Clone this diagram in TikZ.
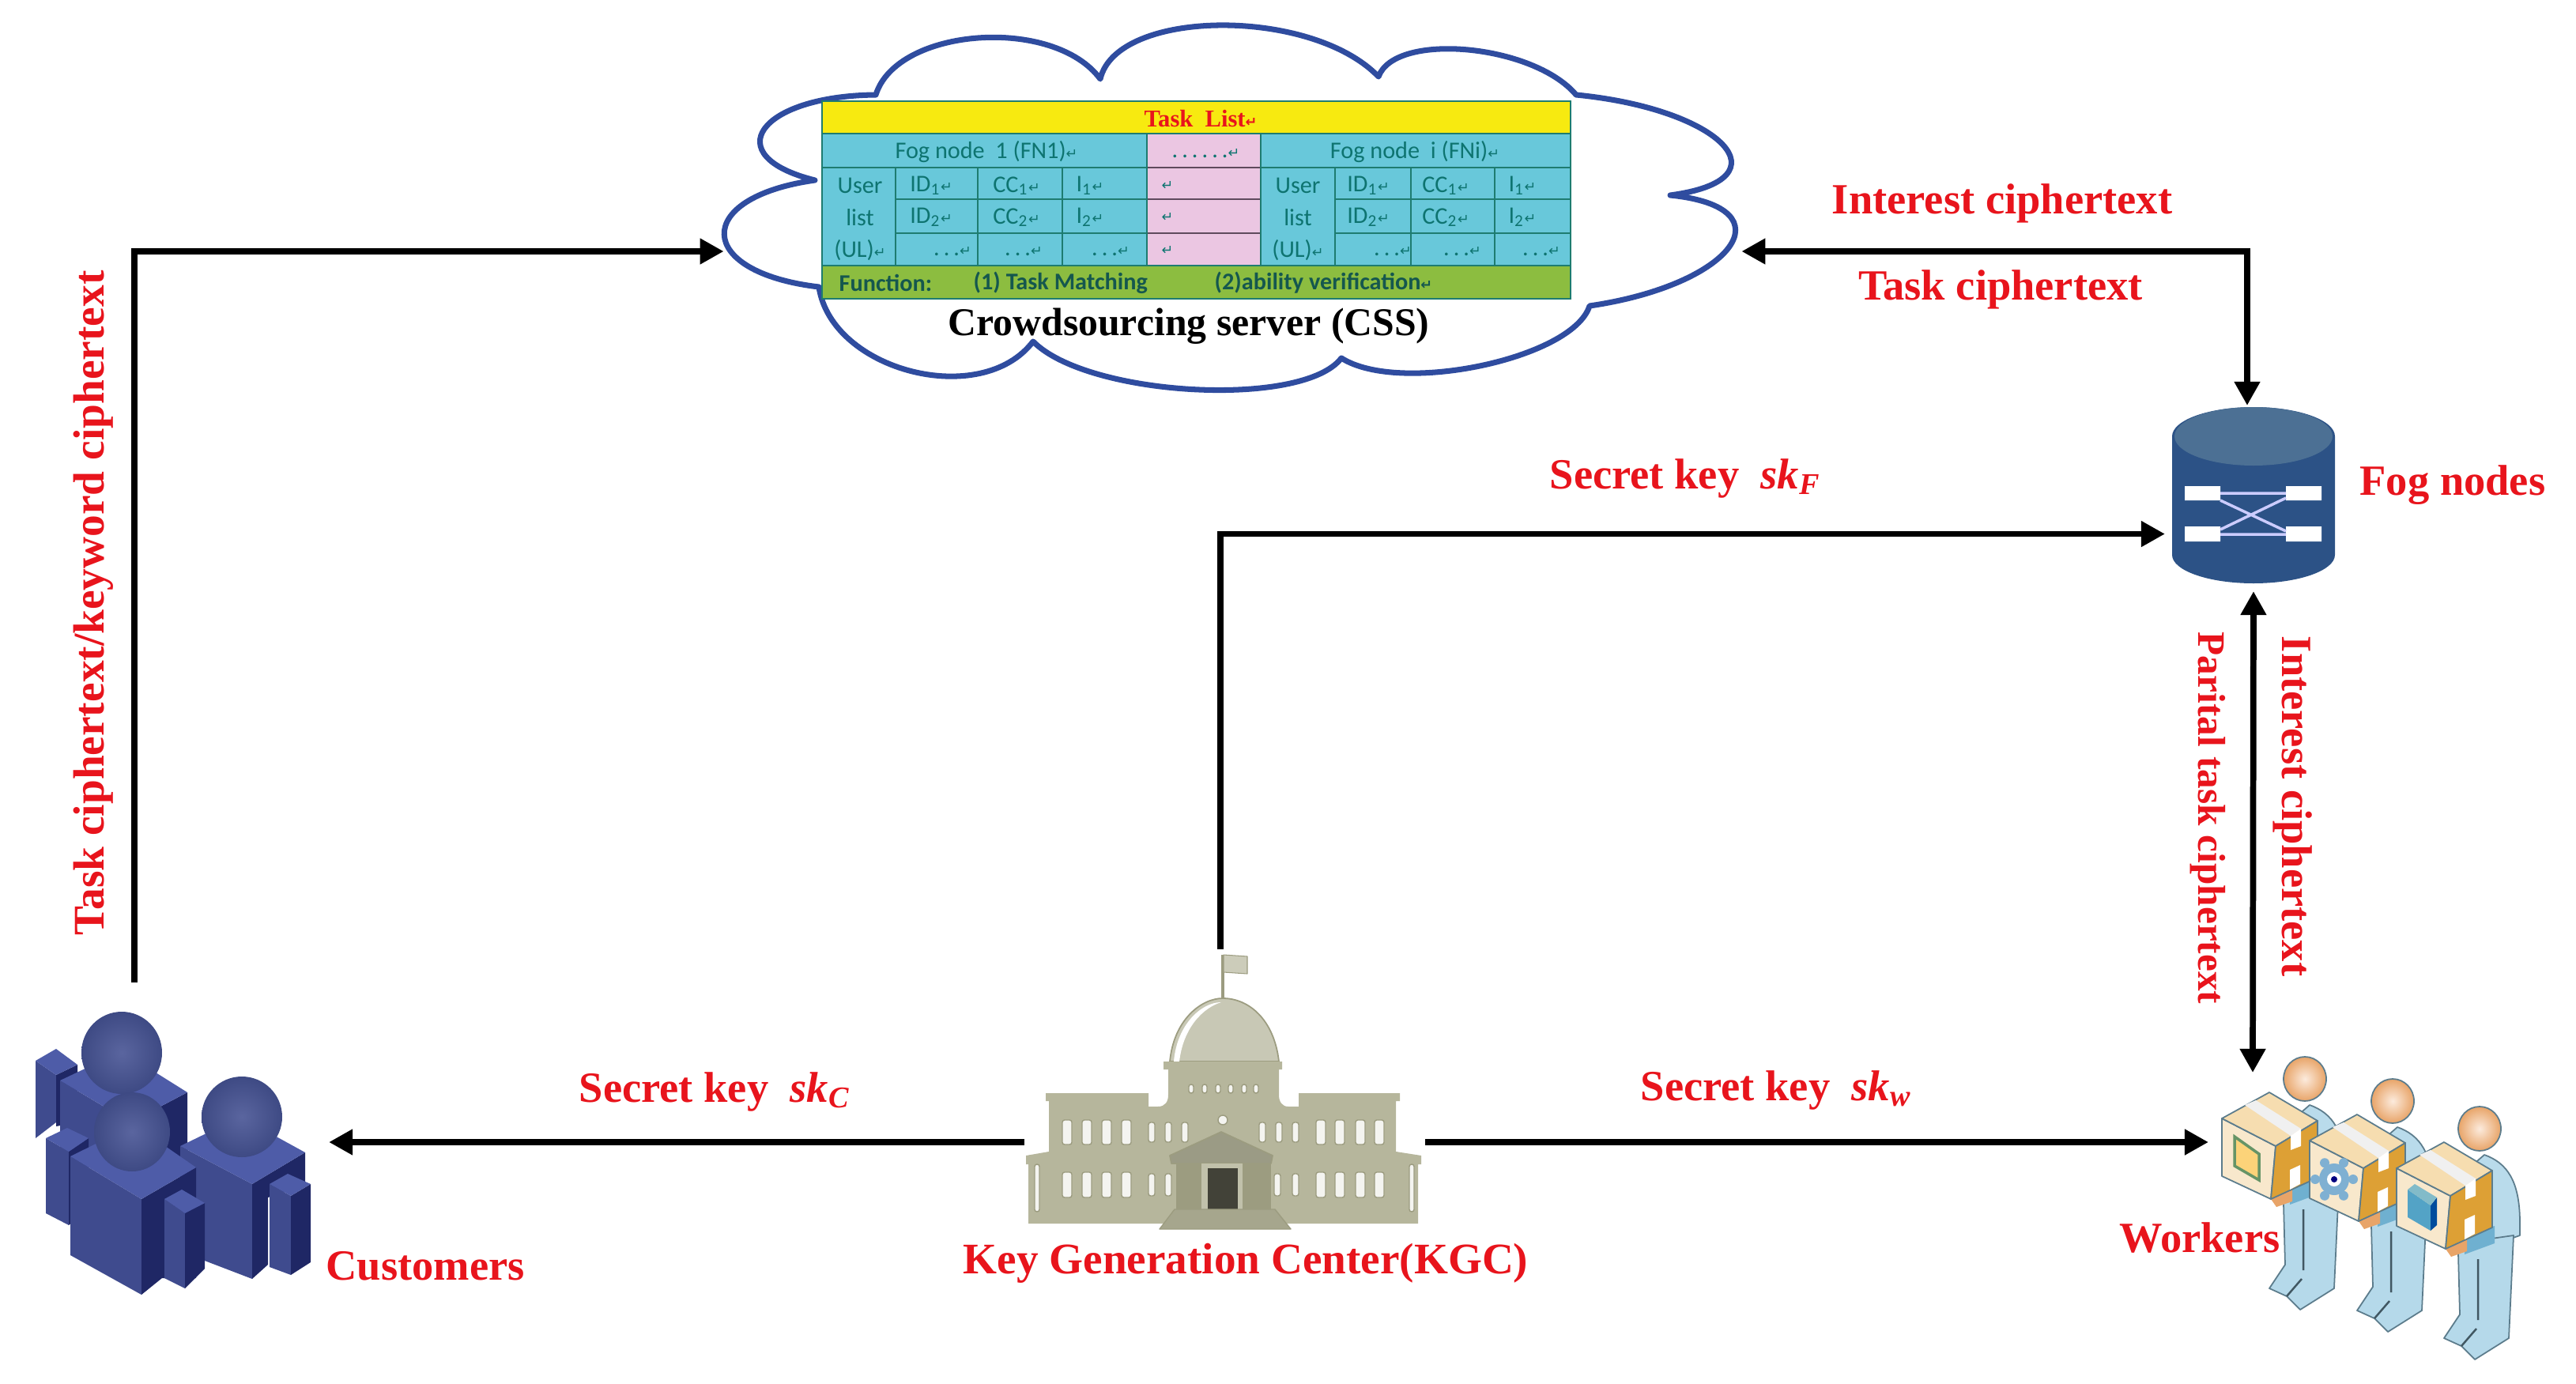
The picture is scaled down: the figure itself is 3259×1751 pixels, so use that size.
\documentclass[tikz,border=0pt]{standalone}
\usepackage{fontspec}
\setmainfont{Liberation Serif}
\setsansfont{Carlito}
\newfontfamily\symfont{DejaVu Sans}
\usetikzlibrary{arrows.meta,calc}
\definecolor{lab}{HTML}{E8141C}
\definecolor{cloudb}{HTML}{2F4C9F}
\definecolor{cyanc}{HTML}{68C8DA}
\definecolor{pinkc}{HTML}{EBC6E2}
\definecolor{yelc}{HTML}{F7EA10}
\definecolor{grnc}{HTML}{8CBD40}
\definecolor{tealt}{HTML}{0E7470}
\definecolor{teall}{HTML}{1E7C70}
\definecolor{custM}{HTML}{3F4B8E}
\definecolor{custT}{HTML}{4E5CA8}
\definecolor{custD}{HTML}{1F2765}
\definecolor{custH}{HTML}{5A659F}
\definecolor{custO}{HTML}{3E4A84}
\definecolor{bld}{HTML}{B6B69C}
\definecolor{bldd}{HTML}{9C9C80}
\definecolor{wkb}{HTML}{A8D2E6}
\definecolor{wkd}{HTML}{5C7C8C}
\definecolor{wkw}{HTML}{6FB0D0}
\definecolor{boxT}{HTML}{F6DDB0}
\definecolor{boxL}{HTML}{F8E8CC}
\definecolor{boxR}{HTML}{DDA035}
\definecolor{headI}{HTML}{FCEBDD}
\definecolor{headO}{HTML}{E8A468}
\definecolor{gearc}{HTML}{7FB0D2}
\newcommand{\lobe}[3]{.. controls ($1.333*(#2)+0.183*(#1)-0.517*(#3)$) and ($1.333*(#2)-0.517*(#1)+0.183*(#3)$) .. (#3)}
\newcommand{\retm}{{\symfont\fontsize{5}{6}\selectfont ↵}}
\newcommand{\skey}[1]{Secret key~~{\itshape sk}\textsubscript{\itshape #1}}
\begin{document}
\begin{tikzpicture}[x=0.01cm,y=-0.01cm,
  arr/.style={line width=2.2pt,draw=black,-{Triangle[length=3mm,width=3.1mm]}},
  darr/.style={line width=2.2pt,draw=black,{Triangle[length=3mm,width=3.1mm]}-{Triangle[length=3mm,width=3.1mm]}},
  port/.style={inner sep=0pt,outer sep=0pt,draw=none,fill=none},
  lbl/.style={font=\fontsize{15.5}{18}\selectfont\bfseries,text=lab,inner sep=0pt},
  cell/.style={font=\sffamily\fontsize{8.6}{10}\selectfont,text=tealt,inner sep=0pt},
  win/.style={fill=#1,draw=bldd,line width=0.4pt,rounded corners=0.8pt},
  win/.default={white!85!bld},
  bx/.style={draw=wkd,line width=0.5pt,line join=round}]
\useasboundingbox (0,0) rectangle (3259,1751);

% ---------- cloud
\foreach \n/\x/\y in {a/1031/228,b/1108/120,c/1392/100,d/1744/97,e/1994/120,f/2113/247,g/2011/387,h/1697/453,i/1307/432,j/1036/363,
  ma/968/163,mb/1239/48,mc/1545/32,md/1858/63,me/2181/183,mf/2189/313,mg/1875/463,mh/1511/493,mi/1154/470,mj/917/297}
  \coordinate (\n) at (\x,\y);
\draw[cloudb,fill=white,line width=2pt,line join=round]
  (a) \lobe{a}{ma}{b} \lobe{b}{mb}{c} \lobe{c}{mc}{d} \lobe{d}{md}{e} \lobe{e}{me}{f}
      \lobe{f}{mf}{g} \lobe{g}{mg}{h} \lobe{h}{mh}{i} \lobe{i}{mi}{j} \lobe{j}{mj}{a} -- cycle;

% ---------- table
\fill[yelc] (1040,128) rectangle (1987,169);
\fill[cyanc] (1040,169) rectangle (1451,336);
\fill[pinkc] (1451,169) rectangle (1595,336);
\fill[cyanc] (1595,169) rectangle (1987,336);
\fill[grnc] (1040,336) rectangle (1987,378);
\draw[teall,line width=0.6pt] (1040,128) rectangle (1987,378);
\draw[teall,line width=0.8pt] (1040,169) -- (1987,169) (1040,212) -- (1987,212) (1040,336) -- (1987,336);
\draw[teall,line width=0.8pt] (1133,252) -- (1451,252) (1133,295) -- (1451,295) (1689,252) -- (1987,252) (1689,295) -- (1987,295);
\draw[teall!60!purple,line width=0.8pt] (1451,212) -- (1595,212) (1451,252) -- (1595,252) (1451,295) -- (1595,295);
\foreach \x in {1133,1237,1344,1451,1595,1689,1785,1891} \draw[teall,line width=0.6pt] (\x,212) -- (\x,336);
\draw[teall,line width=0.6pt] (1451,169) -- (1451,212) (1595,169) -- (1595,212);
\node[font=\fontsize{8.7}{10}\selectfont\bfseries,text=lab,inner sep=0pt] (tTask) at (1519,150) {Task~~List\retm};
\node[cell] (tFog1) at (1248,192) {Fog node~~1 (FN1)\retm};
\node[cell] (tDots) at (1523,194) {\,.\,.\,.\,.\,.\,.\retm};
\node[cell] (tFogI) at (1790,192) {Fog node~~i (FNi)\retm};
\node[cell] (tUa) at (1088,235) {User};
\node[cell] (tUb) at (1088,275) {list};
\node[cell] (tUc) at (1088,317) {(UL)\retm};
\node[cell] (tUd) at (1642,235) {User};
\node[cell] (tUe) at (1642,275) {list};
\node[cell] (tUf) at (1642,317) {(UL)\retm};
\node[cell] (tA1) at (1178,235) {ID\textsubscript{1}\retm};
\node[cell] (tA2) at (1286,235) {CC\textsubscript{1}\retm};
\node[cell] (tA3) at (1379,235) {I\textsubscript{1}\retm};
\node[cell] (tB1) at (1178,275) {ID\textsubscript{2}\retm};
\node[cell] (tB2) at (1286,275) {CC\textsubscript{2}\retm};
\node[cell] (tB3) at (1379,275) {I\textsubscript{2}\retm};
\node[cell] (tC1) at (1205,318) {.\,.\,.\retm};
\node[cell] (tC2) at (1295,318) {.\,.\,.\retm};
\node[cell] (tC3) at (1405,318) {.\,.\,.\retm};
\node[cell] (tD1) at (1731,235) {ID\textsubscript{1}\retm};
\node[cell] (tD2) at (1829,235) {CC\textsubscript{1}\retm};
\node[cell] (tD3) at (1926,235) {I\textsubscript{1}\retm};
\node[cell] (tE1) at (1731,275) {ID\textsubscript{2}\retm};
\node[cell] (tE2) at (1829,275) {CC\textsubscript{2}\retm};
\node[cell] (tE3) at (1926,275) {I\textsubscript{2}\retm};
\node[cell] (tF1) at (1762,318) {.\,.\,.\retm};
\node[cell] (tF2) at (1850,318) {.\,.\,.\retm};
\node[cell] (tF3) at (1950,318) {.\,.\,.\retm};
\node[cell] (tP1) at (1477,235) {\retm};
\node[cell] (tP2) at (1477,275) {\retm};
\node[cell] (tP3) at (1477,317) {\retm};
\node[cell,font=\sffamily\bfseries\fontsize{8.6}{10}\selectfont,text=teall!70!black,anchor=west] (tFa) at (1061,358) {Function:};
\node[cell,font=\sffamily\bfseries\fontsize{8.6}{10}\selectfont,text=teall!70!black,anchor=west] (tFb) at (1231,358) {(1) Task Matching};
\node[cell,font=\sffamily\bfseries\fontsize{8.6}{10}\selectfont,text=teall!70!black,anchor=west] (tFc) at (1536,358) {(2)ability verification\retm};
\node[font=\fontsize{14.15}{17}\selectfont\bfseries,inner sep=0pt] (tCSS) at (1504,413) {Crowdsourcing server (CSS)};

% ---------- fog cylinder
\fill[fill={rgb,255:red,44;green,82;blue,134}] (2748,552) -- (2748,702) arc[x radius=103,y radius=-36,start angle=180,end angle=360] -- (2954,552) arc[x radius=103,y radius=-37,start angle=0,end angle=180] -- cycle;
\fill[fill={rgb,255:red,76;green,112;blue,148}] (2851,552) ellipse[x radius=100,y radius=-37];
\fill[white] (2764,615) rectangle (2809,633) (2892,615) rectangle (2937,633) (2764,666) rectangle (2809,685) (2892,666) rectangle (2937,685);
\draw[white!80!blue,line width=1pt] (2809,624) -- (2892,624) (2809,676) -- (2892,676) (2809,633) -- (2892,672) (2809,670) -- (2892,630);

% ---------- customers
\begin{scope}[line join=round]
% back person
\fill[custM] (45,1342) -- (71,1360) -- (71,1420) -- (45,1440) -- cycle;
\fill[custD] (71,1360) -- (98,1347) -- (98,1420) -- (71,1425) -- cycle;
\fill[custT] (45,1342) -- (71,1327) -- (98,1347) -- (71,1360) -- cycle;
\fill[custM] (76,1367) -- (165,1420) -- (165,1500) -- (76,1460) -- cycle;
\fill[custD] (165,1420) -- (237,1382) -- (237,1470) -- (165,1500) -- cycle;
\fill[custT] (76,1367) -- (154,1330) -- (237,1382) -- (165,1420) -- cycle;
\shade[inner color=custH,outer color=custO] (154,1332) ellipse[x radius=51,y radius=-52];
% right person
\fill[custM] (228,1450) -- (319,1498) -- (319,1618) -- (259,1595) -- (228,1520) -- cycle;
\fill[custD] (319,1498) -- (386,1458) -- (386,1500) -- (339,1515) -- (339,1600) -- (319,1618) -- cycle;
\fill[custT] (228,1450) -- (304,1413) -- (386,1458) -- (319,1498) -- cycle;
\fill[custM] (341,1498) -- (368,1513) -- (368,1613) -- (341,1603) -- cycle;
\fill[custD] (368,1513) -- (393,1498) -- (393,1597) -- (368,1613) -- cycle;
\fill[custT] (341,1498) -- (364,1485) -- (393,1498) -- (368,1513) -- cycle;
\shade[inner color=custH,outer color=custO] (306,1413) ellipse[x radius=51,y radius=-51];
% front person
\fill[custM] (58,1440) -- (87,1457) -- (87,1550) -- (58,1535) -- cycle;
\fill[custD] (87,1457) -- (112,1440) -- (112,1530) -- (87,1550) -- cycle;
\fill[custT] (58,1440) -- (85,1427) -- (112,1440) -- (87,1457) -- cycle;
\fill[custM] (89,1463) -- (179,1517) -- (179,1638) -- (89,1588) -- cycle;
\fill[custD] (179,1517) -- (248,1477) -- (248,1617) -- (205,1617) -- (179,1638) -- cycle;
\fill[custT] (89,1463) -- (170,1423) -- (248,1477) -- (179,1517) -- cycle;
\fill[custM] (208,1517) -- (234,1535) -- (234,1630) -- (208,1617) -- cycle;
\fill[custD] (234,1535) -- (259,1522) -- (259,1605) -- (234,1630) -- cycle;
\fill[custT] (208,1517) -- (230,1505) -- (259,1522) -- (234,1535) -- cycle;
\shade[inner color=custH,outer color=custO] (167,1432) ellipse[x radius=48,y radius=-50];
\end{scope}

% ---------- KGC building
\begin{scope}[line join=round]
\draw[bldd,line width=1pt] (1547,1262) -- (1547,1208);
\fill[bld!70!white,draw=bldd,line width=0.3pt] (1548,1208) -- (1578,1210) -- (1578,1232) -- (1548,1230) -- cycle;
\fill[bld!75!white,draw=bldd,line width=0.5pt] (1480,1343) .. controls (1485,1290) and (1520,1263) .. (1547,1263) .. controls (1580,1263) and (1612,1290) .. (1618,1343) -- cycle;
\fill[white] (1485,1343) .. controls (1489,1296) and (1520,1268) .. (1545,1268) .. controls (1522,1275) and (1497,1300) .. (1492,1343) -- cycle;
\fill[bld] (1301,1548) -- (1301,1473) -- (1298,1473) -- (1298,1462) -- (1327,1457) -- (1327,1393) -- (1323,1393) -- (1323,1383) -- (1453,1383) -- (1453,1400) -- (1465,1400) .. controls (1474,1400) and (1478,1394) .. (1478,1385) -- (1478,1353) -- (1472,1353) -- (1472,1343) -- (1622,1343) -- (1622,1353) -- (1618,1353) -- (1618,1385) .. controls (1618,1394) and (1622,1400) .. (1630,1400) -- (1643,1400) -- (1643,1383) -- (1771,1383) -- (1771,1393) -- (1766,1393) -- (1766,1457) -- (1798,1462) -- (1798,1473) -- (1794,1473) -- (1794,1548) -- cycle;
\foreach \x in {1507,1524,1541,1557,1574,1589} \draw[win] (\x-3,1372) rectangle (\x+3,1383);
\foreach \x in {1350,1375,1400,1425,1671,1695,1721,1745} {\draw[win] (\x-6,1417) rectangle (\x+6,1448); \draw[win] (\x-6,1483) rectangle (\x+6,1515);}
\foreach \x in {1457,1478,1499,1597,1618,1639} \draw[win] (\x-4,1420) rectangle (\x+4,1445);
\foreach \x in {1457,1478,1616,1639} \draw[win] (\x-4,1485) rectangle (\x+4,1513);
\foreach \x in {1312,1786} \draw[win] (\x-3,1473) rectangle (\x+3,1533);
\draw[win] (1547,1417) circle[radius=6];
\fill[bldd] (1488,1462) rectangle (1608,1530);
\fill[bld!85!black,draw=bldd,line width=0.5pt] (1545,1432) -- (1610,1462) -- (1608,1472) -- (1482,1472) -- (1480,1462) -- cycle;
\fill[bld!85!white] (1520,1472) rectangle (1572,1530);
\fill[black!55!bld!80!black] (1528,1478) rectangle (1566,1530);
\fill[bldd!90!white,draw=bldd,line width=0.4pt] (1467,1555) -- (1633,1555) -- (1613,1530) -- (1486,1530) -- cycle;
\end{scope}

% ---------- workers
\newcommand{\wkr}[3]{%
\begin{scope}[shift={(#1,#2)}]
 \fill[wkb!80!white,bx] (2922,1398) .. controls (2950,1408) and (2967,1430) .. (2967,1484) -- (2967,1500) -- (2897,1525) -- (2897,1420) -- cycle;
 \fill[wkb!85!white,bx] (2889,1523) -- (2891,1600) -- (2871,1630) -- (2893,1640) -- (2910,1657) -- (2953,1630) -- (2959,1500) -- (2889,1510) -- cycle;
 \draw[wkd!70!black,line width=0.7pt] (2914,1530) -- (2914,1607) (2893,1640) -- (2912,1618);
 \fill[wkw] (2897,1500) -- (2935,1488) -- (2935,1510) -- (2897,1524) -- cycle;
 \shade[inner color=headI,outer color=headO,draw=wkd,line width=0.5pt] (2916,1365) ellipse[x radius=27,y radius=-28];
 \fill[headO] (2873,1517) -- (2900,1505) -- (2900,1520) -- (2880,1527) -- cycle;
 \fill[boxL,bx] (2811,1415) -- (2879,1450) -- (2873,1517) -- (2811,1488) -- cycle;
 \fill[boxT,bx] (2811,1415) -- (2871,1382) -- (2932,1418) -- (2879,1450) -- cycle;
 \fill[boxR,bx] (2879,1450) -- (2932,1418) -- (2932,1490) -- (2873,1517) -- cycle;
 \fill[white!88!gray] (2840,1398) -- (2854,1392) -- (2911,1428) -- (2898,1437) -- cycle;
 \fill[white] (2898,1437) -- (2911,1428) -- (2911,1450) -- (2898,1455) -- cycle;
 \fill[white] (2897,1480) -- (2910,1474) -- (2910,1498) -- (2897,1505) -- cycle;
 #3
\end{scope}}
\wkr{0}{0}{\fill[yellow!35!orange!50!white,draw=green!30!black!60!white,line width=1pt] (2827,1438) -- (2858,1460) -- (2858,1493) -- (2827,1475) -- cycle;}
\wkr{111}{28}{\fill[gearc] (2842,1464) ellipse[x radius=19,y radius=-20];
  \foreach \a in {0,60,...,300} \fill[gearc] ($(2842,1464)+(\a:24)$) circle[radius=6];
  \fill[white] (2842,1464) circle[radius=9]; \fill[blue!50!black] (2842,1464) circle[radius=4];}
\wkr{221}{63}{\fill[blue!30!cyan!50!gray!90!white] (2825,1442) -- (2854,1462) -- (2854,1494) -- (2825,1477) -- cycle;
  \fill[blue!45!black!70!cyan] (2854,1462) -- (2862,1452) -- (2862,1487) -- (2854,1494) -- cycle;
  \fill[blue!20!cyan!40!gray!70!white] (2825,1442) -- (2834,1435) -- (2862,1452) -- (2854,1462) -- cycle;}

% ---------- invisible anchor nodes
\node[port,minimum width=3.88cm,minimum height=4.04cm] (cust) at (222,1445) {};
\node[port,minimum width=12.87cm,minimum height=3.56cm] (css) at (1559.5,318) {};
\node[port,minimum width=2.24cm,minimum height=2.35cm] (fog) at (2851,630.5) {};
\node[port,minimum width=5.07cm,minimum height=4.88cm] (kgc) at (1549.5,1445) {};
\node[port,minimum width=1.12cm,minimum height=1.76cm] (wk) at (2850,1445) {};

% ---------- connectors
\draw[arr] ([xshift=-0.52cm]cust.north) |- (css.west);
\draw[darr] (css.east) -| ([xshift=-0.08cm]fog.north);
\draw[arr] ([xshift=-0.055cm]kgc.north) |- ([yshift=-0.45cm]fog.west);
\draw[darr] (fog.south) -- (wk.north);
\draw[arr] (kgc.west) -- (cust.east);
\draw[arr] (kgc.east) -- (wk.west);

% ---------- labels
\node[lbl] (l1) at (2533,257) {Interest ciphertext};
\node[lbl] (l2) at (2531,366) {Task ciphertext};
\node[lbl] (l3) at (2132,605) {\skey{F}};
\node[lbl] (l4) at (3103,614) {Fog nodes};
\node[lbl,rotate=-90,font=\fontsize{14}{17}\selectfont\bfseries] (l5) at (2793,1035) {Parital task ciphertext};
\node[lbl,rotate=-90] (l6) at (2901,1020) {Interest ciphertext};
\node[lbl,rotate=90,font=\fontsize{15.75}{18}\selectfont\bfseries] (l7) at (118,763) {Task ciphertext/keyword ciphertext};
\node[lbl] (l8) at (904,1381) {\skey{C}};
\node[lbl] (l9) at (2247,1379) {\skey{w}};
\node[lbl,font=\fontsize{15.7}{18}\selectfont\bfseries] (l10) at (1576,1598) {Key Generation Center(KGC)};
\node[lbl] (l11) at (538,1602) {Customers};
\node[lbl] (l12) at (2783,1566) {Workers};
\end{tikzpicture}
\end{document}
